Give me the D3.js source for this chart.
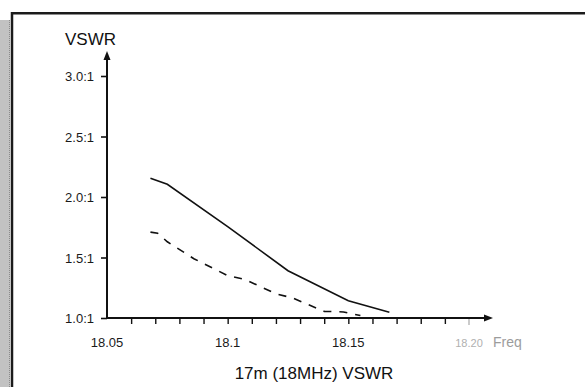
<!DOCTYPE html>
<html>
<head>
<meta charset="utf-8">
<script src="https://cdn.jsdelivr.net/npm/d3@7"></script>
<style>
  html, body { margin: 0; padding: 0; background: #fff; }
  svg { display: block; font-family: "Liberation Sans", Arial, sans-serif; }
  .axis text { fill: #1a1a1a; }
</style>
</head>
<body>
<svg id="chart" width="585" height="387"></svg>
<script>
// VSWR readings (freq in MHz, ratio x:1)
const solidFreq  = [18.068, 18.075, 18.100, 18.125, 18.150, 18.167]
const solidVswr  = [2.155, 2.105, 1.755, 1.391, 1.143, 1.047]

const dashedFreq = [18.068, 18.071, 18.075, 18.086, 18.100, 18.107, 18.120, 18.127, 18.140, 18.148, 18.155]
const dashedVswr = [1.71, 1.70, 1.63, 1.49, 1.35, 1.32, 1.20, 1.165, 1.055, 1.05, 1.02]

const yTicks      = [1.0, 1.5, 2.0, 2.5, 3.0]
const xMinorTicks = [18.06, 18.07, 18.08, 18.09, 18.10, 18.11, 18.12, 18.13, 18.14, 18.15, 18.16, 18.17, 18.18, 18.19]
const xLabels     = [18.05, 18.1, 18.15]
const xEnd        = 18.20

const chartTitle = '17m (18MHz) VSWR'
const yTitle = 'VSWR'
const xTitle = 'Freq'

const svg = d3.select('#chart')

// scanned page edge on the left
svg.append('rect').attr('x', 0).attr('y', 20).attr('width', 10).attr('height', 367).attr('fill', '#c2c2c2')
svg.append('line').attr('x1', 9.5).attr('x2', 9.5).attr('y1', 20).attr('y2', 387)
  .attr('stroke', '#8a8a8a').attr('stroke-dasharray', '1,1')

// frame (top + left only)
svg.append('path').attr('d', 'M12,387V13.2H585')
  .attr('fill', 'none').attr('stroke', '#1b1b1b').attr('stroke-width', 2.5)

const x = d3.scaleLinear().domain([18.05, 18.20]).range([107, 469])
const y = d3.scaleLinear().domain([1, 3]).range([318, 76])

// y axis ticks + labels
const yAxis = svg.append('g')
  .attr('class', 'axis y-axis')
  .attr('transform', `translate(${ x(18.05) },0)`)
  .call(d3.axisLeft(y).tickValues(yTicks).tickSize(6).tickPadding(7)
    .tickFormat(d => d.toFixed(1) + ':1'))
yAxis.select('.domain').remove()
yAxis.selectAll('line').attr('stroke', '#111').attr('stroke-width', 1.6)
yAxis.selectAll('text').attr('font-size', 13).attr('dy', '0.36em')

// x axis minor ticks
const xAxis = svg.append('g')
  .attr('class', 'axis x-axis')
  .attr('transform', `translate(0,${ y(1) })`)
  .call(d3.axisBottom(x).tickValues(xMinorTicks).tickSize(6).tickFormat(''))
xAxis.select('.domain').remove()
xAxis.selectAll('line').attr('stroke', '#111').attr('stroke-width', 1.4)

// faint end tick at 18.20
svg.append('line')
  .attr('x1', x(xEnd)).attr('x2', x(xEnd))
  .attr('y1', y(1)).attr('y2', y(1) + 7)
  .attr('stroke', '#b5b5b5').attr('stroke-width', 1.4)

// x labels
svg.append('g').selectAll('text')
  .data(xLabels)
  .join('text')
  .attr('x', d => x(d))
  .attr('y', 347)
  .attr('text-anchor', 'middle')
  .attr('font-size', 13)
  .attr('fill', '#1a1a1a')
  .text(d => d)

svg.append('text')
  .attr('x', x(xEnd)).attr('y', 347)
  .attr('text-anchor', 'middle')
  .attr('font-size', 11)
  .attr('fill', '#b0b0b0')
  .text(xEnd.toFixed(2))

svg.append('text')
  .attr('x', 493).attr('y', 347)
  .attr('font-size', 14)
  .attr('fill', '#9c9c9c')
  .text(xTitle)

// axis lines with arrowheads
const ox = x(18.05), oy = y(1)
svg.append('line').attr('x1', ox).attr('x2', ox).attr('y1', oy).attr('y2', 58)
  .attr('stroke', '#111').attr('stroke-width', 2)
svg.append('path').attr('d', `M${ ox },51L${ ox - 3.5 },60L${ ox + 3.5 },60Z`).attr('fill', '#111')

svg.append('line').attr('x1', ox).attr('x2', 486).attr('y1', oy).attr('y2', oy)
  .attr('stroke', '#111').attr('stroke-width', 2)
svg.append('path').attr('d', `M493,${ oy }L484,${ oy - 3.5 }L484,${ oy + 3.5 }Z`).attr('fill', '#111')

// y title
svg.append('text')
  .attr('x', 65).attr('y', 45)
  .attr('font-size', 17)
  .attr('fill', '#111')
  .text(yTitle)

// series
const line = d3.line().x(d => x(d[0])).y(d => y(d[1]))

svg.append('path')
  .datum(d3.zip(solidFreq, solidVswr))
  .attr('d', line)
  .attr('fill', 'none')
  .attr('stroke', '#111')
  .attr('stroke-width', 1.6)

svg.append('path')
  .datum(d3.zip(dashedFreq, dashedVswr))
  .attr('d', line)
  .attr('fill', 'none')
  .attr('stroke', '#111')
  .attr('stroke-width', 1.6)
  .attr('stroke-dasharray', '8,8')

// chart title
svg.append('text')
  .attr('x', 314).attr('y', 379)
  .attr('text-anchor', 'middle')
  .attr('font-size', 17)
  .attr('fill', '#111')
  .text(chartTitle)
</script>
</body>
</html>
